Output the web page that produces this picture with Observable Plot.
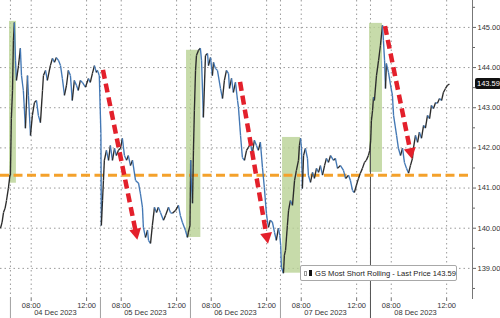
<!DOCTYPE html>
<html><head><meta charset="utf-8">
<script src="https://cdn.jsdelivr.net/npm/d3@7"></script>
<script src="https://cdn.jsdelivr.net/npm/@observablehq/plot@0.6"></script>
<style>
body{margin:0;background:#fff;}
#wrap{position:relative;width:500px;height:318px;font-family:"Liberation Sans",Arial,sans-serif;}
#legend{position:absolute;left:300px;top:265px;width:155px;height:14px;border:1px solid #a8a8a8;border-radius:2px;background:#fff;font-size:7.6px;color:#222;display:flex;align-items:center;white-space:nowrap;}
#legend .h{display:inline-block;width:3px;height:3px;border:1px solid #999;margin-left:3px;}
#legend .b{display:inline-block;width:6px;height:6px;background:#111;margin-left:2px;margin-right:3px;}
</style></head><body><div id="wrap"></div>
<script>
// ---- axis data ----
const days = ["2023-12-01","2023-12-04","2023-12-05","2023-12-06","2023-12-07","2023-12-08"];
const dayLabels = ["04 Dec 2023","05 Dec 2023","06 Dec 2023","07 Dec 2023","08 Dec 2023"];
const hourTicks = ["08:00","12:00"];
const yTicks = [139,140,141,142,143,144,145];
const yMinor = [138.5,139.5,140.5,141.5,142.5,143.5,144.5,145.5];
const yDomain = [138.25,145.67];
const xStart = "2023-12-01 12:17", xEnd = "2023-12-08 13:52";
const sessionOpen = 6.5, sessionHours = 6.5;

// ---- price series (GS Most Short Rolling) ----
const dec01Times = ["12:17","12:24","12:30","12:37","12:43","12:51","12:58"];
const dec01Prices = [140.00,140.15,140.39,140.50,140.69,140.99,141.32];
const dec04Times = ["06:30","06:34","06:39","06:43","06:47","06:52","06:56","07:05","07:13","07:18","07:26","07:35","07:44","07:48","07:57","08:05","08:14","08:23","08:31","08:40","08:49","08:53","09:02","09:10","09:23","09:32","09:41","09:49","09:58","10:07","10:15","10:24","10:33","10:41","10:50","10:58","11:07","11:16","11:24","11:33","11:42","11:55","12:08","12:16","12:25","12:34","12:42","12:47","12:55"];
const dec04Prices = [141.32,142.73,143.43,144.68,145.12,144.18,143.68,144.05,144.48,143.80,143.43,142.49,143.80,143.31,142.31,142.81,143.13,143.18,142.81,142.63,143.43,143.80,143.93,143.68,144.05,144.23,144.13,144.25,144.18,144.05,143.73,143.31,143.56,143.93,143.80,143.18,143.68,143.56,143.43,143.68,143.63,143.51,143.73,143.63,143.85,144.05,143.88,143.93,143.80];
const dec05Times = ["06:32","06:34","06:39","06:43","06:47","06:56","07:05","07:13","07:22","07:31","07:39","07:48","07:57","08:05","08:14","08:23","08:31","08:40","08:49","09:02","09:15","09:23","09:32","09:36","09:45","09:54","09:58","10:07","10:15","10:24","10:33","10:41","10:50","11:03","11:12","11:25","11:33","11:42","11:55","12:08","12:16","12:25","12:38","12:47","12:51","12:58"];
const dec05Prices = [142.36,140.07,140.69,141.19,141.69,141.94,141.69,142.06,141.69,141.99,141.81,141.94,141.99,142.24,141.81,141.69,141.81,141.56,141.69,141.19,141.12,140.87,140.52,140.02,139.77,139.95,139.70,139.62,140.07,140.52,140.39,140.52,140.39,140.20,140.32,140.52,140.39,140.37,140.44,140.57,140.32,140.15,139.95,139.77,139.90,140.07];
const dec06Times = ["06:31","06:33","06:39","06:43","06:47","06:52","06:56","07:05","07:13","07:18","07:26","07:35","07:44","07:48","07:57","08:05","08:10","08:18","08:27","08:40","08:49","08:57","09:06","09:15","09:19","09:28","09:36","09:45","09:54","09:58","10:07","10:15","10:24","10:33","10:41","10:50","10:58","11:07","11:16","11:24","11:33","11:42","11:50","11:59","12:03","12:08","12:16","12:25","12:34","12:42","12:51","12:57"];
const dec06Prices = [141.69,141.27,140.62,141.94,142.93,143.93,144.30,144.43,144.48,144.18,142.76,144.30,144.35,144.05,144.25,143.80,144.13,143.98,143.93,143.48,143.23,143.68,143.93,143.85,143.48,143.73,143.38,143.63,143.18,143.01,142.31,141.76,141.69,141.94,142.01,142.11,141.86,142.19,142.06,141.94,142.14,141.51,141.02,140.37,140.20,140.02,140.20,140.15,139.90,139.70,140.00,139.82];
const dec07Times = ["06:31","06:34","06:43","06:47","06:52","07:00","07:05","07:13","07:22","07:31","07:39","07:48","07:52","07:57","08:01","08:05","08:10","08:18","08:27","08:31","08:40","08:49","08:57","09:06","09:15","09:23","09:32","09:41","09:49","09:58","10:07","10:20","10:28","10:37","10:50","11:03","11:12","11:25","11:33","11:42","11:50","11:59","12:08","12:16","12:25","12:34","12:42","12:51","12:57"];
const dec07Prices = [139.57,139.03,138.88,139.33,139.45,140.07,140.44,140.69,140.57,141.19,141.44,141.69,142.06,142.24,141.99,140.99,141.81,141.99,141.74,141.32,141.14,141.39,141.24,141.49,141.39,141.56,141.32,141.56,141.74,141.64,141.81,141.69,141.74,141.49,141.56,141.44,141.24,141.32,141.19,140.94,140.89,141.07,141.24,141.37,141.49,141.64,141.69,141.81,141.94];
const dec08Times = ["06:31","06:34","06:39","06:43","06:47","06:56","07:05","07:13","07:22","07:26","07:31","07:35","07:39","07:48","07:57","08:05","08:10","08:23","08:31","08:40","08:49","08:57","09:06","09:15","09:23","09:32","09:36","09:45","09:54","10:02","10:11","10:20","10:28","10:37","10:46","10:54","11:03","11:12","11:20","11:29","11:38","11:46","11:55","12:04","12:12"];
const dec08Prices = [142.19,142.68,142.93,143.26,143.18,143.80,144.18,144.55,145.05,144.68,144.18,143.48,144.10,143.88,143.56,143.31,142.81,142.31,141.99,141.81,141.99,141.64,141.49,141.37,141.56,141.74,141.99,142.31,142.14,142.39,142.24,142.56,142.49,142.81,142.73,143.06,142.98,143.13,143.11,143.23,143.18,143.38,143.48,143.56,143.59];
const lastPrice = 143.59;

// ---- annotations ----
const supportLevel = 141.32;
const shadeStart = ["2023-12-04 06:26","2023-12-06 06:13","2023-12-07 06:39","2023-12-08 06:26"];
const shadeEnd   = ["2023-12-04 06:56","2023-12-06 07:15","2023-12-07 07:57","2023-12-08 07:22"];
const shadeLow   = [141.12,139.77,138.88,141.39];
const shadeHigh  = [145.15,144.43,142.26,145.10];
const arrowFrom      = ["2023-12-05 06:43","2023-12-06 10:07","2023-12-08 07:35"];
const arrowFromPrice = [143.93,143.63,145.02];
const arrowTo        = ["2023-12-05 09:12","2023-12-06 12:08","2023-12-08 09:32"];
const arrowToPrice   = [139.70,139.60,141.71];

// session-time position (overnight gaps removed)
function sx(day, hhmm){const [h,m]=hhmm.split(":").map(Number);return (days.indexOf(day)-1)*sessionHours+(h+m/60-sessionOpen);}
function sxs(s){const [d,t]=s.split(" ");return sx(d,t);}

const perDay = [[dec01Times,dec01Prices],[dec04Times,dec04Prices],[dec05Times,dec05Prices],[dec06Times,dec06Prices],[dec07Times,dec07Prices],[dec08Times,dec08Prices]];
const pts = [];
perDay.forEach(([t,p],i)=>t.forEach((tt,j)=>pts.push({x:sx(days[i],tt),y:p[j]})));
const segs = d3.pairs(pts).map(([a,b])=>({x1:a.x,y1:a.y,x2:b.x,y2:b.y,up:b.y>=a.y}));

const dayStarts = days.slice(1).map(d=>sx(d,"06:30"));
const hourX = [], hourLab = new Map();
days.slice(1).forEach(d=>hourTicks.forEach(h=>{const v=sx(d,h);hourX.push(v);hourLab.set(v,h);}));
const dayMid = new Map();
days.slice(1).forEach((d,i)=>dayMid.set(sx(d,"06:30")+sessionHours/2,dayLabels[i]));
const shades = shadeStart.map((s,i)=>({x1:sxs(s),x2:sxs(shadeEnd[i]),y1:shadeLow[i],y2:shadeHigh[i]}));
const lastDayOpen = pts.find(p=>p.x>=dayStarts[4]);

const plot = Plot.plot({
  width:500,height:318,marginTop:0,marginRight:28,marginBottom:20,marginLeft:0,
  style:{fontFamily:"'Liberation Sans',Arial,sans-serif",fontSize:"7.5px",color:"#333",background:"#fff",overflow:"visible"},
  x:{domain:[sxs(xStart),sxs(xEnd)],axis:null},
  y:{domain:yDomain,axis:null},
  marks:[
    Plot.ruleY(yTicks,{stroke:"#9a9a9a",strokeDasharray:"1.5,3"}),
    Plot.ruleX(hourX.concat(dayStarts),{stroke:"#9a9a9a",strokeDasharray:"1.5,3"}),
    Plot.ruleX(dayStarts,{stroke:"#a0a0a0",insetTop:298,insetBottom:-20}),
    Plot.rect(shades,{x1:"x1",x2:"x2",y1:"y1",y2:"y2",fill:"#b9d295",fillOpacity:0.8}),
    Plot.ruleX([lastDayOpen],{x:dayStarts[4],y1:"y",y2:yDomain[0],insetBottom:-20,stroke:"#555"}),
    Plot.ruleY([supportLevel],{stroke:"#f4a12b",strokeWidth:3,strokeDasharray:"9,4.5",insetRight:2}),
    Plot.link(segs,{x1:"x1",y1:"y1",x2:"x2",y2:"y2",stroke:d=>d.up?"#2b2b2b":"#4277b4",strokeWidth:1.35}),
    Plot.axisY(yTicks,{anchor:"right",tickSize:3,tickPadding:2,tickFormat:d=>d.toFixed(2),stroke:"#666",fill:"#333"}),
    Plot.axisY(yMinor,{anchor:"right",tickSize:2,tickFormat:()=>"",stroke:"#666"}),
    Plot.frame({anchor:"right",stroke:"#777"}),
    Plot.axisX(hourX,{anchor:"bottom",tickSize:3,tickPadding:1,tickFormat:d=>hourLab.get(d),stroke:"#777",fill:"#333"}),
    Plot.axisX([...dayMid.keys()],{anchor:"bottom",tickSize:0,tickPadding:11,tickFormat:d=>dayMid.get(d),fill:"#333"})
  ]
});

const xs = plot.scale("x"), ys = plot.scale("y");
const svg = d3.select(plot);
const red = "#e3202b";
arrowFrom.forEach((s,i)=>{
  const x1=xs.apply(sxs(s)), y1=ys.apply(arrowFromPrice[i]);
  const x2=xs.apply(sxs(arrowTo[i])), y2=ys.apply(arrowToPrice[i]);
  const L=Math.hypot(x2-x1,y2-y1), ux=(x2-x1)/L, uy=(y2-y1)/L, hl=11, hw=6;
  const bx=x2-ux*hl, by=y2-uy*hl;
  svg.append("line").attr("x1",x1).attr("y1",y1).attr("x2",bx+ux*1).attr("y2",by+uy*1)
    .attr("stroke",red).attr("stroke-width",4.5).attr("stroke-dasharray","9,5");
  svg.append("path").attr("d",`M${x2},${y2}L${bx-uy*hw},${by+ux*hw}L${bx+uy*hw},${by-ux*hw}Z`).attr("fill",red);
});
const ty = ys.apply(lastPrice);
svg.append("rect").attr("x",475).attr("y",ty-5.5).attr("width",26).attr("height",11).attr("rx",2).attr("fill","#111");
svg.append("text").attr("x",477).attr("y",ty+2.7).attr("text-anchor","start").attr("fill","#fff").attr("font-size","7.5px").text(lastPrice.toFixed(2));

const wrap = document.getElementById("wrap");
wrap.appendChild(plot);
const lg = document.createElement("div");
lg.id = "legend";
lg.innerHTML = '<span class="h"></span><span class="b"></span><span>GS Most Short Rolling - Last Price ' + lastPrice.toFixed(2) + '</span>';
wrap.appendChild(lg);
</script></body></html>
